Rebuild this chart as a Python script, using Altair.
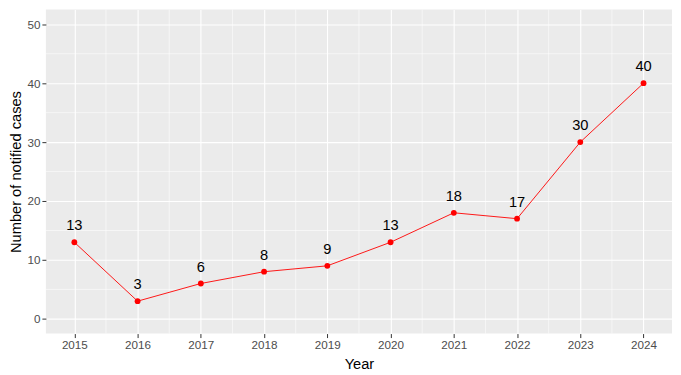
import altair as alt
import pandas as pd

years = [2015, 2016, 2017, 2018, 2019, 2020, 2021, 2022, 2023, 2024]
cases = [13, 3, 6, 8, 9, 13, 18, 17, 30, 40]
y_ticks = [0, 10, 20, 30, 40, 50]
y_minor = [5, 15, 25, 35, 45]
x_minor = [2015.5, 2016.5, 2017.5, 2018.5, 2019.5, 2020.5, 2021.5, 2022.5, 2023.5]

df = pd.DataFrame({"Year": years, "Cases": cases})
xs = alt.Scale(domain=[2014.55, 2024.45], nice=False, zero=False)
ys = alt.Scale(domain=[-2.5, 52.5], nice=False, zero=False)

xaxis = alt.Axis(values=years, format="d", title="Year", grid=True, gridColor="white",
                 gridWidth=1.1, tickColor="#333333", tickSize=4, tickWidth=1,
                 labelColor="#4D4D4D", labelFontSize=11.7, labelPadding=2,
                 titleFontSize=14.7, titleColor="black", titleFontWeight="normal",
                 titlePadding=5, domain=False, labelFont="Liberation Sans",
                 titleFont="Liberation Sans")
yaxis = alt.Axis(values=y_ticks, title="Number of notified cases", grid=True, gridColor="white",
                 gridWidth=1.1, tickColor="#333333", tickSize=4, tickWidth=1,
                 labelColor="#4D4D4D", labelFontSize=11.7, labelPadding=2,
                 titleFontSize=14.7, titleColor="black", titleFontWeight="normal",
                 titlePadding=3, domain=False, labelFont="Liberation Sans",
                 titleFont="Liberation Sans")

base = alt.Chart(df)

xminor = alt.Chart(pd.DataFrame({"v": x_minor})).mark_rule(color="white", strokeWidth=0.55).encode(
    x=alt.X("v:Q", scale=xs, axis=xaxis))
yminor = alt.Chart(pd.DataFrame({"v": y_minor})).mark_rule(color="white", strokeWidth=0.55).encode(
    y=alt.Y("v:Q", scale=ys, axis=yaxis))

line = base.mark_line(color="red", strokeWidth=0.9).encode(
    x=alt.X("Year:Q", scale=xs, axis=xaxis),
    y=alt.Y("Cases:Q", scale=ys, axis=yaxis))
pts = base.mark_circle(color="red", size=34, opacity=1).encode(
    x=alt.X("Year:Q", scale=xs), y=alt.Y("Cases:Q", scale=ys))
txt = base.mark_text(dy=-16, fontSize=14.7, color="black", font="Liberation Sans",
                     baseline="middle").encode(
    x=alt.X("Year:Q", scale=xs), y=alt.Y("Cases:Q", scale=ys), text="Cases:Q")

chart = alt.layer(xminor, yminor, line, pts, txt).properties(
    width=628, height=325, padding={"left": 0, "top": 0, "right": 0, "bottom": 0},
    background="white"
).configure_view(fill="#EBEBEB", stroke=None)

chart.save("out.html", embed_options={"renderer": "svg", "actions": False})
